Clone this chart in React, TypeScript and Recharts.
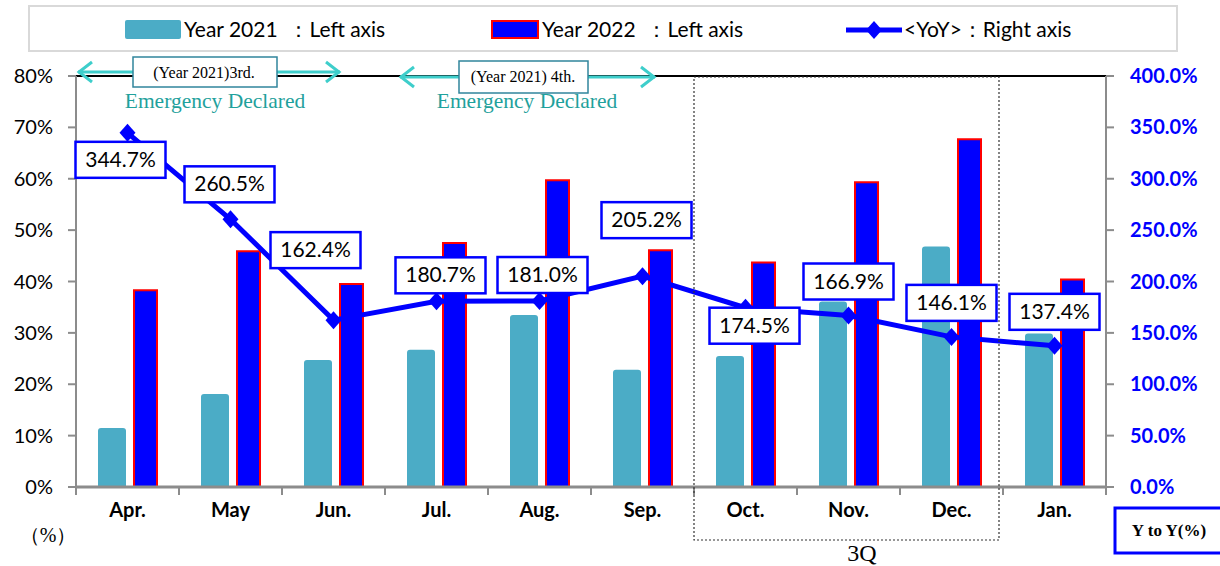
import React from 'react';
import {
    ComposedChart, Bar, Line, XAxis, YAxis, CartesianGrid, ReferenceLine, LabelList,
} from 'recharts';

const months = ['Apr.', 'May', 'Jun.', 'Jul.', 'Aug.', 'Sep.', 'Oct.', 'Nov.', 'Dec.', 'Jan.'];
const year2021 = [11.5, 18.1, 24.7, 26.7, 33.5, 22.8, 25.5, 36.1, 46.8, 29.9];
const year2022 = [38.3, 45.9, 39.5, 47.5, 59.7, 46.1, 43.7, 59.3, 67.7, 40.4];
const yoy = [344.7, 260.5, 162.4, 180.7, 181.0, 205.2, 174.5, 166.9, 146.1, 137.4];
const leftTicks = [0, 10, 20, 30, 40, 50, 60, 70, 80];
const rightTicks = [0, 50, 100, 150, 200, 250, 300, 350, 400];

// where each YoY box sits relative to its point (dx, dy of the box centre)
const labelOffsets = [
    [-7, 27], [-1, -35], [-18, -70], [4, -26], [3, -26],
    [4, -56], [9, 18], [0, -34], [0, -34], [0, -34],
];

const CYAN = '#4BACC6';
const BLUE = '#0000FF';
const GRID = '#8C8C8C';
const TEAL = '#1FA19C';
const ARROW = '#3ECECB';
const SANS = 'Lato, "Noto Sans", sans-serif';
const SERIF = '"Liberation Serif", "DejaVu Serif", serif';

const chartData = months.map((m, i) => ({
    month: m,
    y2021: year2021[i],
    y2022: year2022[i],
    yoy: yoy[i],
}));

// eslint-disable-next-line @typescript-eslint/no-explicit-any
const Diamond = ({ cx, cy }: any) => {
    if (cx == null || cy == null) return null;
    return <path d={`M${cx},${cy - 9}L${cx + 8},${cy}L${cx},${cy + 9}L${cx - 8},${cy}Z`} fill={BLUE} />;
};

// eslint-disable-next-line @typescript-eslint/no-explicit-any
const YoyLabel = ({ x, y, value, index }: any) => {
    const [dx, dy] = labelOffsets[index] || [0, -34];
    const cx = x + dx;
    const cy = y + dy;
    return (
        <g>
            <rect x={cx - 45} y={cy - 18} width={90} height={36} fill="#fff" stroke={BLUE} strokeWidth={2.5} />
            <text x={cx} y={cy + 7} textAnchor="middle" fontFamily={SANS} fontSize={21} fill="#000">
                {Number(value).toFixed(1)}%
            </text>
        </g>
    );
};

// month labels, tick marks sit on the category boundaries
// eslint-disable-next-line @typescript-eslint/no-explicit-any
const MonthTick = ({ x, y, payload, index, visibleTicksCount }: any) => {
    const half = payload?.offset || 51.5;
    const last = index === (visibleTicksCount ?? months.length) - 1;
    return (
        <g>
            <line x1={x - half} y1={y} x2={x - half} y2={y + 8} stroke={GRID} strokeWidth={2} />
            {last && <line x1={x + half} y1={y} x2={x + half} y2={y + 8} stroke={GRID} strokeWidth={2} />}
            <text x={x} y={y + 30} textAnchor="middle" fontFamily={SANS} fontSize={20} fontWeight={700} fill="#000">
                {payload.value}
            </text>
        </g>
    );
};

function ChartLegend() {
    const text: React.CSSProperties = { fontFamily: SANS, fontSize: 21, color: '#000', whiteSpace: 'pre' };
    return (
        <div
            style={{
                position: 'absolute', left: 28, top: 5, width: 1150, height: 47,
                border: '2px solid #D9D9D9', boxSizing: 'border-box',
            }}
        >
            <div style={{ position: 'absolute', left: 95, top: 13, width: 56, height: 19, background: CYAN, borderRadius: 2 }} />
            <span style={{ ...text, position: 'absolute', left: 154, top: 9 }}>Year 2021  ：Left axis</span>
            <div
                style={{
                    position: 'absolute', left: 461, top: 13, width: 48, height: 19, background: BLUE,
                    border: '2px solid #FF0000', boxSizing: 'border-box',
                }}
            />
            <span style={{ ...text, position: 'absolute', left: 512, top: 9 }}>Year 2022  ：Left axis</span>
            <svg style={{ position: 'absolute', left: 814, top: 10 }} width={60} height={26}>
                <line x1={2} y1={13} x2={58} y2={13} stroke={BLUE} strokeWidth={5} />
                <path d="M30,4L38,13L30,22L22,13Z" fill={BLUE} />
            </svg>
            <span style={{ ...text, position: 'absolute', left: 874, top: 9 }}>&lt;YoY&gt;：Right axis</span>
        </div>
    );
}

function Arrow({ x1, x2, y }: { x1: number; x2: number; y: number }) {
    return (
        <g stroke={ARROW} strokeWidth={3} fill="none">
            <line x1={x1} y1={y} x2={x2} y2={y} />
            <polyline points={`${x1 + 14},${y - 10} ${x1 + 1},${y} ${x1 + 14},${y + 10}`} />
            <polyline points={`${x2 - 14},${y - 10} ${x2 - 1},${y} ${x2 - 14},${y + 10}`} />
        </g>
    );
}

function Annotations() {
    return (
        <svg
            width={1220}
            height={566}
            style={{ position: 'absolute', left: 0, top: 0, pointerEvents: 'none' }}
        >
            <Arrow x1={78} x2={340} y={72} />
            <rect x={133} y={57} width={144} height={30} fill="#fff" stroke="#31859C" strokeWidth={1.5} />
            <text x={204} y={78} textAnchor="middle" fontFamily={SERIF} fontSize={16}>(Year 2021)3rd.</text>
            <text x={215} y={108} textAnchor="middle" fontFamily={SERIF} fontSize={21.5} fill={TEAL}>Emergency Declared</text>

            <Arrow x1={400} x2={655} y={77} />
            <rect x={459} y={61} width={129} height={32} fill="#fff" stroke="#31859C" strokeWidth={1.5} />
            <text x={523} y={82} textAnchor="middle" fontFamily={SERIF} fontSize={16}>(Year 2021) 4th.</text>
            <text x={527} y={108} textAnchor="middle" fontFamily={SERIF} fontSize={21.5} fill={TEAL}>Emergency Declared</text>

            <rect x={694} y={77} width={305} height={463} fill="none" stroke="#333" strokeWidth={1.2} strokeDasharray="2 2" />
            <text x={862} y={561} textAnchor="middle" fontFamily={SERIF} fontSize={24}>3Q</text>

            <text x={48} y={542} textAnchor="middle" fontFamily={SERIF} fontSize={20}>（%）</text>

            <rect x={1115} y={508} width={110} height={45} fill="#fff" stroke={BLUE} strokeWidth={3} />
            <text x={1169} y={536} textAnchor="middle" fontFamily={SERIF} fontSize={17} fontWeight={700}>Y to Y(%)</text>
        </svg>
    );
}

export default function App() {
    return (
        <div style={{ position: 'absolute', left: 0, top: 0, width: 1220, height: 566, background: '#fff', overflow: 'hidden' }}>
            <ComposedChart
                width={1220}
                height={566}
                data={chartData}
                margin={{ top: 76, right: 0, bottom: 0, left: 0 }}
                barGap={8}
            >
                <CartesianGrid vertical={false} stroke={GRID} strokeWidth={2} />
                <XAxis
                    dataKey="month"
                    height={79}
                    tickLine={false}
                    tickSize={0}
                    tickMargin={0}
                    interval={0}
                    axisLine={{ stroke: GRID, strokeWidth: 3 }}
                    tick={<MonthTick />}
                />
                <YAxis
                    yAxisId="left"
                    width={76}
                    domain={[0, 80]}
                    ticks={leftTicks}
                    interval={0}
                    tickFormatter={(v: number) => `${v}%`}
                    axisLine={{ stroke: GRID, strokeWidth: 2 }}
                    tickLine={{ stroke: GRID, strokeWidth: 2 }}
                    tickSize={8}
                    tickMargin={15}
                    tick={{ fontFamily: SANS, fontSize: 20, fill: '#000' }}
                />
                <YAxis
                    yAxisId="right"
                    orientation="right"
                    width={114}
                    domain={[0, 400]}
                    ticks={rightTicks}
                    interval={0}
                    tickFormatter={(v: number) => `${v.toFixed(1)}%`}
                    axisLine={{ stroke: GRID, strokeWidth: 2 }}
                    tickLine={{ stroke: GRID, strokeWidth: 2 }}
                    tickSize={8}
                    tickMargin={16}
                    tick={{ fontFamily: SANS, fontSize: 20, fontWeight: 700, fill: BLUE, textAnchor: 'start' }}
                />
                <ReferenceLine yAxisId="left" y={80} stroke="#000" strokeWidth={2} />
                <Bar
                    yAxisId="left"
                    dataKey="y2021"
                    fill={CYAN}
                    barSize={28}
                    radius={[3, 3, 0, 0]}
                    isAnimationActive={false}
                />
                <Bar
                    yAxisId="left"
                    dataKey="y2022"
                    fill={BLUE}
                    stroke="#FF0000"
                    strokeWidth={2}
                    barSize={23}
                    isAnimationActive={false}
                />
                <Line
                    yAxisId="right"
                    dataKey="yoy"
                    stroke={BLUE}
                    strokeWidth={5}
                    dot={<Diamond />}
                    activeDot={false}
                    isAnimationActive={false}
                >
                    <LabelList dataKey="yoy" content={<YoyLabel />} />
                </Line>
            </ComposedChart>
            <ChartLegend />
            <Annotations />
        </div>
    );
}
